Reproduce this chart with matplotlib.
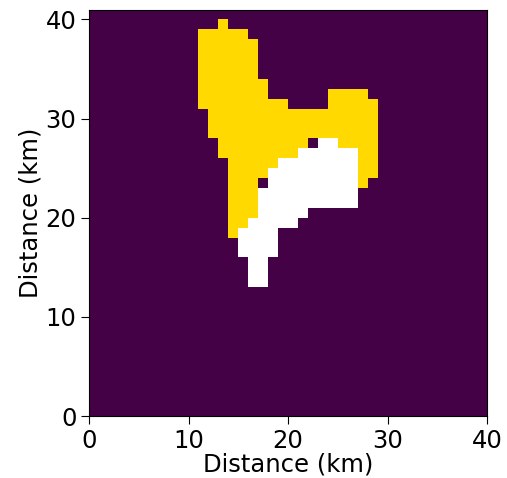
import numpy as np
import matplotlib.pyplot as plt
from matplotlib.colors import ListedColormap

# grid of 1 km cells, 40 columns x 41 rows
n_x, n_y = 40, 41

# filled cells given as (row, first column, last column)
yellow_spans = [
    (39, 13, 13), (38, 11, 15),
    (37, 11, 16), (36, 11, 16), (35, 11, 16), (34, 11, 16),
    (33, 11, 17), (32, 11, 17), (32, 24, 27),
    (31, 11, 19), (31, 24, 28),
    (30, 12, 28), (29, 12, 28), (28, 12, 28),
    (27, 13, 21), (27, 25, 28),
    (26, 13, 20), (26, 27, 28),
    (25, 14, 18), (25, 27, 28),
    (24, 14, 17), (24, 27, 28),
    (23, 14, 16), (23, 27, 27),
    (22, 14, 16), (21, 14, 16), (20, 14, 16),
    (19, 14, 15), (18, 14, 14),
]
white_spans = [
    (27, 23, 24), (26, 21, 26), (25, 19, 26), (24, 18, 26),
    (23, 18, 26), (22, 17, 26), (21, 17, 26), (20, 17, 21),
    (19, 16, 20), (18, 15, 18), (17, 15, 18), (16, 15, 18),
    (15, 16, 17), (14, 16, 17), (13, 16, 17),
]

grid = np.zeros((n_y, n_x))
for r, a, b in yellow_spans:
    grid[r, a:b + 1] = 1
for r, a, b in white_spans:
    grid[r, a:b + 1] = 2

cmap = ListedColormap(['#440145', '#ffd900', '#ffffff'])

fig = plt.figure(figsize=(5.07, 4.78), dpi=100)
ax = fig.add_axes([89/507, 62/478, 398/507, 406.5/478])
ax.pcolormesh(np.arange(n_x + 1), np.arange(n_y + 1), grid, cmap=cmap, vmin=0, vmax=2)
ax.set_xlim(0, 40)
ax.set_ylim(0, 41)
ax.set_xticks([0, 10, 20, 30, 40])
ax.set_yticks([0, 10, 20, 30, 40])
ax.tick_params(labelsize=17.5, length=5.5)
ax.set_xlabel('Distance (km)', fontsize=17.5, labelpad=0)
ax.set_ylabel('Distance (km)', fontsize=17.5, labelpad=2)

fig.savefig('out.png', dpi=100)
